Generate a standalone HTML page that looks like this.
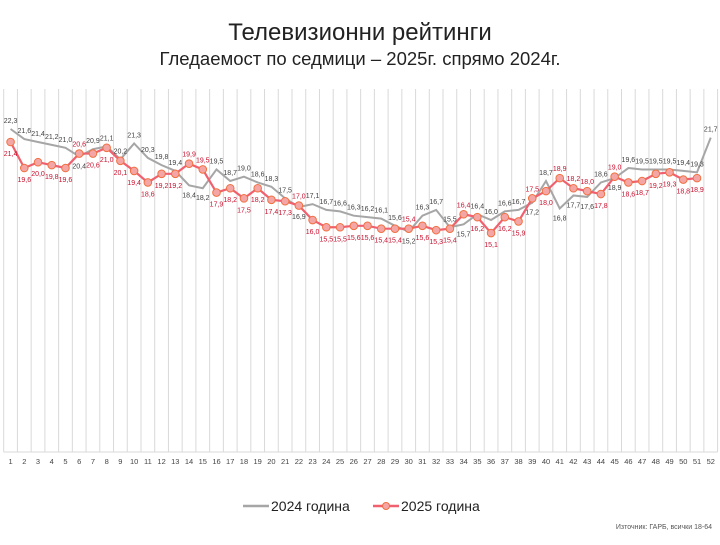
<!DOCTYPE html>
<html><head><meta charset="utf-8"><style>
body{margin:0;background:#fff;width:720px;height:540px;overflow:hidden;font-family:"Liberation Sans",sans-serif}
</style></head><body>
<svg id="chart" width="720" height="540" xmlns="http://www.w3.org/2000/svg" font-family="Liberation Sans, sans-serif">
<text x="360" y="40" text-anchor="middle" font-size="24" fill="#222">Телевизионни рейтинги</text>
<text x="360" y="65" text-anchor="middle" font-size="18.5" fill="#222">Гледаемост по седмици – 2025г. спрямо 2024г.</text>
<g id="grid"></g><g id="lines"></g><g id="labels"></g>
<g>
<line x1="243" y1="506" x2="269" y2="506" stroke="#a6a6a6" stroke-width="2.5"/>
<text x="271" y="511" font-size="14" fill="#222">2024 година</text>
<line x1="373" y1="506" x2="399" y2="506" stroke="#f0606e" stroke-width="2.5"/>
<circle cx="386" cy="506" r="3.5" fill="#f4a6a6" stroke="#f07040"/>
<text x="401" y="511" font-size="14" fill="#222">2025 година</text>
</g>
<text x="712" y="529" text-anchor="end" font-size="7" fill="#555">Източник: ГАРБ, всички 18-64</text>
</svg>
<script>
const weeks = Array.from({length:52},(_, i)=>String(i+1));
const series2024 = [22.3,21.6,21.4,21.2,21.0,20.4,20.9,21.1,20.2,21.3,20.3,19.8,19.4,18.4,18.2,19.5,18.7,19.0,18.6,18.3,17.5,16.9,17.1,16.7,16.6,16.3,16.2,16.1,15.6,15.2,16.3,16.7,15.5,15.7,16.4,16.0,16.6,16.7,17.2,18.7,16.8,17.7,17.6,18.6,18.9,19.6,19.5,19.5,19.5,19.4,19.3,21.7];
const series2025 = [21.4,19.6,20.0,19.8,19.6,20.6,20.6,21.0,20.1,19.4,18.6,19.2,19.2,19.9,19.5,17.9,18.2,17.5,18.2,17.4,17.3,17.0,16.0,15.5,15.5,15.6,15.6,15.4,15.4,15.4,15.6,15.3,15.4,16.4,16.2,15.1,16.2,15.9,17.5,18.0,18.9,18.2,18.0,17.8,19.0,18.6,18.7,19.2,19.3,18.8,18.9];
const NS='http://www.w3.org/2000/svg';
const x0=3.7, cw=(717.6-3.7)/52;
const xs=i=>x0+cw*(i+0.5);
const ys=v=>142-(v-21.4)*14.45;
const fmt=v=>v.toFixed(1).replace('.',',');
function mk(tag,attrs,parent){const e=document.createElementNS(NS,tag);for(const k in attrs)e.setAttribute(k,attrs[k]);parent.appendChild(e);return e;}
const grid=document.getElementById('grid'),lines=document.getElementById('lines'),labels=document.getElementById('labels');
for(let i=0;i<=52;i++){
  const l=mk('line',{x1:x0+cw*i,x2:x0+cw*i,y1:89,y2:452,stroke:'#d9d9d9','stroke-width':1},grid);
  
  
}
const ax=mk('line',{x1:x0,x2:717.6,y1:452,y2:452,stroke:'#d9d9d9'},grid);


weeks.forEach((w,i)=>{
  const t=mk('text',{x:xs(i),y:464,'text-anchor':'middle','font-size':7.5,fill:'#444'},grid);
  t.textContent=w;
  
  
});
const p24=mk('polyline',{points:series2024.map((v,i)=>xs(i)+','+ys(v)).join(' '),fill:'none',stroke:'#a6a6a6','stroke-width':2},lines);


const p25=mk('polyline',{points:series2025.map((v,i)=>xs(i)+','+ys(v)).join(' '),fill:'none',stroke:'#f0606e','stroke-width':2.2},lines);


series2025.forEach((v,i)=>{
  const c=mk('circle',{cx:xs(i),cy:ys(v),r:3.8,fill:'#f4a6a6',stroke:'#f07040','stroke-width':1},lines);
  
  
});
series2024.forEach((v,i)=>{
  const r=series2025[i];
  const above = r===undefined || v>=r;
  const t=mk('text',{x:xs(i),y:above?ys(v)-6:ys(v)+12,'text-anchor':'middle','font-size':7,fill:'#404040'},labels);
  t.textContent=fmt(v);
  
  
});
series2025.forEach((v,i)=>{
  const g=series2024[i];
  const above = v>g;
  const t=mk('text',{x:xs(i),y:above?ys(v)-7:ys(v)+14,'text-anchor':'middle','font-size':7,fill:'#c8102e'},labels);
  t.textContent=fmt(v);
  
  
});
</script>
</body></html>
